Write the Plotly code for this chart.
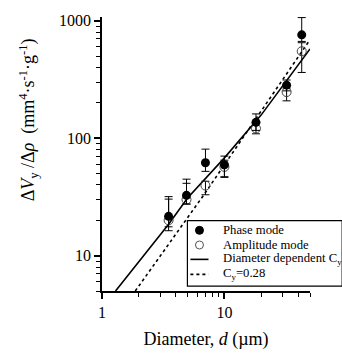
import plotly.graph_objects as go

# Phase mode (filled)
phase_d = [3.5, 4.9, 7.0, 10.0, 18.1, 32.2, 42.8]
phase_v = [21.6, 32.6, 61.8, 59.4, 136.5, 283, 759]
phase_err_plus = [10.2, 12.2, 18.9, 11.0, 24.5, 30, 305]
phase_err_minus = [5.3, 5.1, 9.6, 13.0, 20, 30, 92]

# Amplitude mode (open)
amp_d = [3.5, 4.9, 7.0, 10.0, 18.1, 32.2, 42.8]
amp_v = [20.0, 30.0, 39.5, 57.0, 121, 247, 550]
amp_err_plus = [10.3, 11.3, 3.5, 8.0, 15, 20, 100]
amp_err_minus = [2.4, 2.5, 6.5, 10.0, 12, 39, 187]

# Diameter dependent Cy (solid curve)
fit_d = [1.29, 2, 3.5, 5, 10, 20, 50]
fit_v = [5, 8.9, 18.5, 31, 68, 158, 575]

# Cy = 0.28 (dotted)
const_d = [1.87, 6.8, 50]
const_v = [5, 33, 690]

legend_labels = ["Phase mode", "Amplitude mode",
                 "Diameter dependent C<sub>y</sub>", "C<sub>y</sub>=0.28"]

FONT = "Liberation Serif"

fig = go.Figure()

fig.add_trace(go.Scatter(
    x=fit_d, y=fit_v, mode="lines", name=legend_labels[2],
    line=dict(color="black", width=1.6)))
fig.add_trace(go.Scatter(
    x=const_d, y=const_v, mode="lines", name=legend_labels[3],
    line=dict(color="black", width=1.6, dash="dot")))

fig.add_trace(go.Scatter(
    x=amp_d, y=amp_v, mode="markers", name=legend_labels[1],
    marker=dict(symbol="circle-open", size=9, color="#444", line=dict(width=1)),
    error_y=dict(type="data", symmetric=False, array=amp_err_plus,
                 arrayminus=amp_err_minus, color="black", thickness=1, width=4)))
fig.add_trace(go.Scatter(
    x=phase_d, y=phase_v, mode="markers", name=legend_labels[0],
    marker=dict(symbol="circle", size=9, color="black"),
    error_y=dict(type="data", symmetric=False, array=phase_err_plus,
                 arrayminus=phase_err_minus, color="black", thickness=1, width=4)))

# ---- compact legend box (drawn in paper coordinates) ----
box_x0, box_x1, box_y0, box_y1 = 0.4106, 1.1546, 0.018, 0.257
row_y = [0.2214, 0.1679, 0.1154, 0.0607]
sym_x = 0.4686
line_x0, line_x1 = 0.425, 0.512
text_x = 0.5734

shapes = [
    dict(type="rect", xref="paper", yref="paper", x0=box_x0, x1=box_x1,
         y0=box_y0, y1=box_y1, line=dict(color="black", width=1.2),
         fillcolor="white", layer="above"),
    dict(type="circle", xref="paper", yref="paper", xsizemode="pixel",
         ysizemode="pixel", xanchor=sym_x, yanchor=row_y[0],
         x0=-4, x1=4, y0=-4, y1=4, fillcolor="black",
         line=dict(color="black", width=1), layer="above"),
    dict(type="circle", xref="paper", yref="paper", xsizemode="pixel",
         ysizemode="pixel", xanchor=sym_x, yanchor=row_y[1],
         x0=-4, x1=4, y0=-4, y1=4, fillcolor="white",
         line=dict(color="#555", width=1), layer="above"),
    dict(type="line", xref="paper", yref="paper", x0=line_x0, x1=line_x1,
         y0=row_y[2], y1=row_y[2], line=dict(color="black", width=1.6),
         layer="above"),
    dict(type="line", xref="paper", yref="paper", x0=line_x0, x1=line_x1,
         y0=row_y[3], y1=row_y[3], line=dict(color="black", width=1.6, dash="dot"),
         layer="above"),
]

annotations = [dict(
    text=lab, xref="paper", yref="paper", x=text_x, y=ry,
    xanchor="left", yanchor="middle", showarrow=False,
    font=dict(family=FONT, size=12.7, color="black"))
    for lab, ry in zip(legend_labels, row_y)]

annotations.append(dict(
    text="Δ<i>V</i><sub>y</sub> /Δ<i>ρ</i>  (mm<sup>4</sup>·s<sup>-1</sup>·g<sup>-1</sup>)",
    xref="paper", yref="paper", x=-0.353, y=0.625, textangle=-90,
    showarrow=False, xanchor="center", yanchor="middle",
    font=dict(family=FONT, size=18, color="black")))

fig.update_layout(
    width=342, height=358,
    margin=dict(l=102, r=32, t=15, b=63),
    paper_bgcolor="white", plot_bgcolor="white",
    font=dict(family=FONT, color="black", size=16),
    showlegend=False,
    xaxis=dict(type="log", range=[0, 1.699], showgrid=False, zeroline=False,
               showline=True, linecolor="black", linewidth=1.5,
               ticks="outside", ticklen=6, tickwidth=1.5, tickcolor="black",
               dtick=1, exponentformat="none",
               minor=dict(ticks="outside", ticklen=4, tickwidth=1.2,
                          tickcolor="black", dtick="D1", showgrid=False),
               title=dict(text="Diameter, <i>d</i> (µm)", font=dict(size=18), standoff=12),
               tickfont=dict(size=16)),
    yaxis=dict(type="log", range=[0.699, 3.032], showgrid=False, zeroline=False,
               showline=True, linecolor="black", linewidth=1.5,
               ticks="outside", ticklen=6, tickwidth=1.5, tickcolor="black",
               dtick=1, exponentformat="none",
               minor=dict(ticks="outside", ticklen=4, tickwidth=1.2,
                          tickcolor="black", dtick="D1", showgrid=False),
               tickfont=dict(size=16)),
    shapes=shapes,
    annotations=annotations,
)

# remove the default page margin so the figure fills the window exactly
fig.write_html("out.html",
               config={"displayModeBar": False},
               post_script="document.body.style.margin='0';document.body.style.padding='0';")
